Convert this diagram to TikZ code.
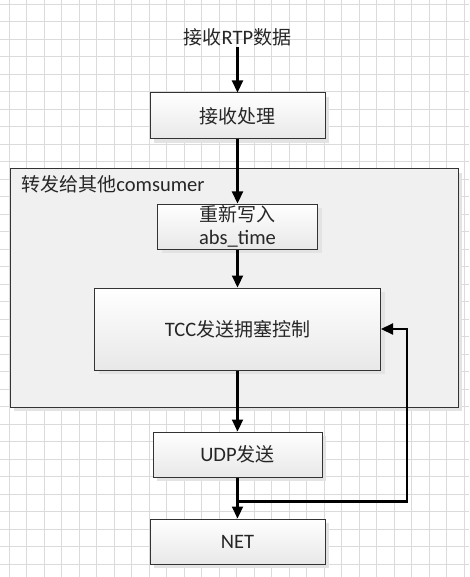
\documentclass[tikz,border=0pt]{standalone}
\usepackage{fontspec}
\setmainfont{Carlito}[Scale=1.08]
\newfontfamily\cjk{Noto Sans CJK SC}
\usetikzlibrary{positioning, arrows.meta, shadows}
\tikzset{
        >={Triangle[width=11pt,length=12pt]}, % filled arrow heads
        grid line/.style={draw=black!14, line width=0.9pt}, % the paper grid
        flow/.style={->, draw=black, line width=2.2pt}, % every connector
        every node/.style={font=\fontsize{19}{25}\selectfont, text=black!85},
    }
\tikzset{
      flow box/.style={
		draw=black!80,
		line width=1pt,
		top color=white,
		bottom color=black!9,
		minimum width={#1},
		minimum height={45pt},
		inner sep=0pt,
		drop shadow={shadow xshift=4pt, shadow yshift=-4pt, fill=black!11, opacity=1},
	  },
  		group box/.style={
		draw=black!80,
		line width=1pt,
		fill=black!6,
		drop shadow={shadow xshift=4pt, shadow yshift=-4pt, fill=black!11, opacity=1},
      }
  	}
\begin{document}
\begin{tikzpicture}[x=1pt, y=-1pt, node distance=40pt]
    \useasboundingbox (0,0) rectangle (469,577);
    \fill[white] (0,0) rectangle (469,577);
    \foreach \i in {0,...,26} \draw[grid line] ({9.3+17.5*\i},0) -- ++(0,577);
    \foreach \j in {0,...,32} \draw[grid line] (0,{4.3+17.5*\j}) -- ++(469,0);

    \node [group box, minimum width=448pt, minimum height=238pt] (group) at (234,288) {};
    \node [anchor=west] (grouptitle) at ([xshift=8pt, yshift=-16pt]group.north west) {{\cjk 转发给其他}comsumer};

    \node [inner sep=1pt] (rtp) at (237.5,37) {{\cjk 接收}RTP{\cjk 数据}};
    \node [flow box=175pt, minimum height=46pt] (recv) at (237.5,116) {\cjk 接收处理};
    \node [flow box=160pt, below=64pt of recv, align=center,
           font=\fontsize{19}{23}\selectfont] (rewrite) {{\cjk 重新写入}\\abs\_time};
    \node [flow box=286pt, minimum height=82pt, below=38pt of rewrite] (tcc) {TCC{\cjk 发送拥塞控制}};
    \node [flow box=169pt, below=61pt of tcc] (udp) {UDP{\cjk 发送}};
    \node [flow box=175pt, below=41pt of udp] (net) {NET};

    \draw [flow] (rtp) -- (recv);
    \draw [flow] (recv) -- (rewrite);
    \draw [flow] (rewrite) -- (tcc);
    \draw [flow] (tcc) -- (udp);
    \draw [flow] (udp) -- (net);
    \coordinate (split) at ([yshift=-24pt]udp.south);
    \coordinate (loop) at (407,0);
    \draw [flow] (split) -| (loop |- tcc.east) -- (tcc.east);
\end{tikzpicture}
\end{document}
